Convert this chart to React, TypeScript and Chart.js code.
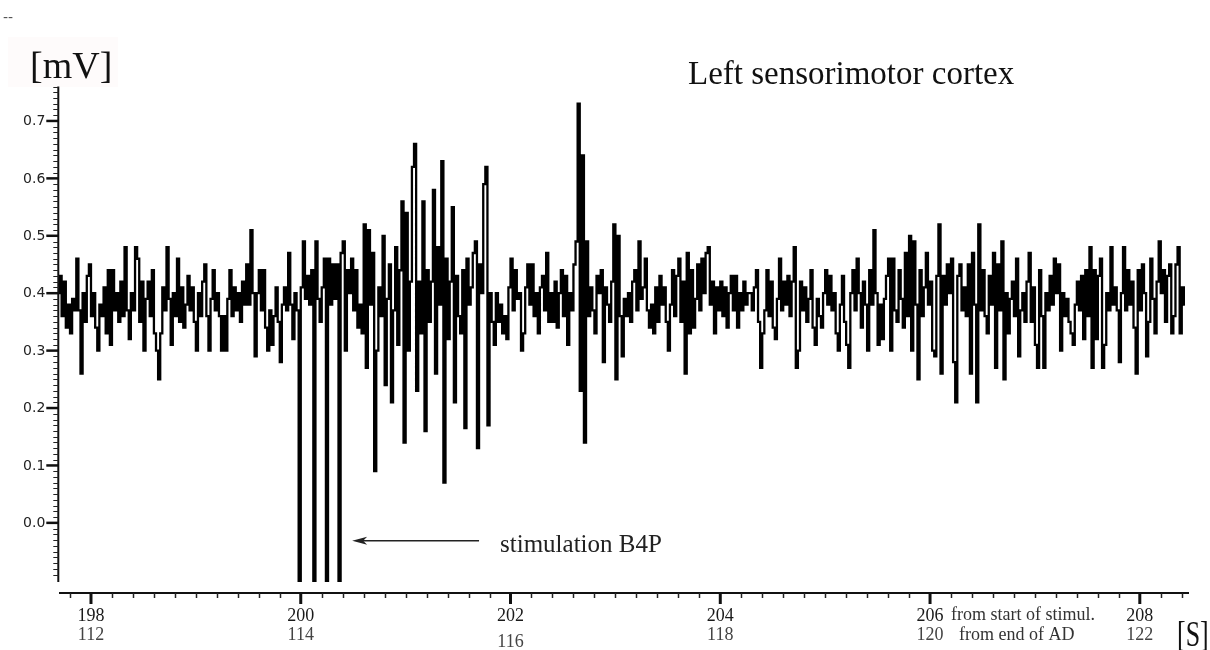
import React, { useEffect, useRef } from 'react';
import { Chart, registerables } from 'chart.js';

Chart.register(...registerables);

// ---- data -----------------------------------------------------------------
const signalStart = 197.69; // s (from start of stimulation)
const signalStep = 0.02; // s between samples

const seg1 = [
  0.40, 0.43, 0.36, 0.42, 0.34, 0.38, 0.33, 0.39, 0.37, 0.46,
  0.37, 0.26, 0.40, 0.35, 0.43, 0.45, 0.36, 0.40, 0.34, 0.30,
  0.38, 0.36, 0.41, 0.33, 0.44, 0.31, 0.44, 0.37, 0.40, 0.35,
  0.42, 0.36, 0.48, 0.37, 0.32, 0.40, 0.37, 0.48, 0.46, 0.35,
  0.42, 0.30, 0.39, 0.42, 0.36, 0.44, 0.33, 0.30, 0.25, 0.33,
  0.41, 0.37, 0.48, 0.39, 0.31, 0.40, 0.36, 0.46, 0.35, 0.41,
  0.34, 0.38, 0.43, 0.37, 0.41, 0.35, 0.30, 0.40, 0.36, 0.42,
  0.45, 0.36, 0.30, 0.39, 0.44, 0.37, 0.40, 0.36, 0.30, 0.36,
  0.30, 0.39, 0.44, 0.36, 0.41, 0.37, 0.40, 0.35, 0.42, 0.38,
  0.45, 0.38, 0.51, 0.40, 0.29, 0.40, 0.44, 0.37, 0.44, 0.34,
  0.30, 0.37, 0.31, 0.36, 0.41, 0.35, 0.28, 0.38, 0.41, 0.37,
];

const seg2 = [
  0.47, 0.38, 0.32, 0.40, 0.37, -0.35, 0.41, 0.49, 0.39, 0.43,
  0.38, 0.44, -0.35, 0.49, 0.39, 0.35, 0.41, 0.46, -0.35, 0.46,
  0.38, 0.45, 0.39, 0.45, -0.35, 0.47, 0.49, 0.30, 0.44, 0.40,
  0.46, 0.37, 0.44, 0.34, 0.38, 0.33, 0.52, 0.27, 0.51, 0.38,
  0.47, 0.09, 0.30, 0.41, 0.36, 0.50, 0.24, 0.39, 0.45, 0.21,
  0.37, 0.48, 0.31, 0.44, 0.56, 0.14, 0.54, 0.30, 0.42, 0.62,
  0.66, 0.23, 0.42, 0.33, 0.56, 0.16, 0.44, 0.35, 0.42, 0.58,
  0.26, 0.48, 0.38, 0.63, 0.07, 0.46, 0.32, 0.42, 0.55, 0.21,
  0.43, 0.36, 0.33, 0.44, 0.165, 0.46, 0.38, 0.41, 0.47, 0.49,
  0.13, 0.45, 0.40, 0.59, 0.62, 0.17, 0.40, 0.35, 0.31, 0.40,
  0.35, 0.38, 0.33, 0.36, 0.32, 0.41, 0.46, 0.37, 0.44, 0.39,
];

const seg3 = [
  0.40, 0.30, 0.33, 0.41, 0.45, 0.38, 0.45, 0.36, 0.40, 0.33,
  0.41, 0.43, 0.37, 0.47, 0.35, 0.40, 0.35, 0.42, 0.34, 0.40,
  0.44, 0.36, 0.43, 0.31, 0.40, 0.37, 0.45, 0.49, 0.73, 0.23,
  0.64, 0.14, 0.49, 0.36, 0.41, 0.37, 0.33, 0.43, 0.40, 0.44,
  0.28, 0.41, 0.38, 0.35, 0.42, 0.52, 0.25, 0.50, 0.36, 0.29,
  0.39, 0.36, 0.40, 0.35, 0.42, 0.44, 0.37, 0.49, 0.39, 0.41,
  0.46, 0.37, 0.34, 0.38, 0.33, 0.41, 0.35, 0.43, 0.38, 0.41,
  0.35, 0.30, 0.38, 0.44, 0.36, 0.43, 0.46, 0.35, 0.42, 0.26,
  0.47, 0.33, 0.44, 0.34, 0.39, 0.45, 0.37, 0.46, 0.40, 0.47,
  0.48, 0.38, 0.42, 0.33, 0.41, 0.37, 0.42, 0.36, 0.41, 0.34,
  0.40, 0.43, 0.37, 0.43, 0.34, 0.40, 0.37, 0.42, 0.38, 0.40,
];

const seg4 = [
  0.40, 0.37, 0.41, 0.44, 0.35, 0.27, 0.33, 0.37, 0.44, 0.36,
  0.42, 0.34, 0.32, 0.39, 0.46, 0.37, 0.42, 0.38, 0.43, 0.36,
  0.42, 0.48, 0.27, 0.30, 0.42, 0.37, 0.41, 0.35, 0.39, 0.44,
  0.34, 0.31, 0.39, 0.36, 0.34, 0.40, 0.44, 0.38, 0.43, 0.37,
  0.40, 0.33, 0.30, 0.38, 0.43, 0.35, 0.31, 0.27, 0.40, 0.44,
  0.37, 0.46, 0.40, 0.34, 0.42, 0.38, 0.30, 0.44, 0.38, 0.51,
  0.40, 0.31, 0.38, 0.32, 0.39, 0.43, 0.46, 0.30, 0.46, 0.37,
  0.35, 0.44, 0.39, 0.34, 0.47, 0.36, 0.50, 0.30, 0.49, 0.38,
  0.25, 0.44, 0.36, 0.41, 0.47, 0.38, 0.42, 0.30, 0.29, 0.43,
  0.52, 0.26, 0.43, 0.38, 0.45, 0.40, 0.46, 0.28, 0.21, 0.43,
  0.45, 0.37, 0.41, 0.36, 0.45, 0.26, 0.47, 0.38, 0.21, 0.52,
];

const seg5 = [
  0.37, 0.44, 0.36, 0.33, 0.43, 0.38, 0.47, 0.27, 0.45, 0.37,
  0.49, 0.25, 0.40, 0.33, 0.39, 0.42, 0.36, 0.46, 0.29, 0.37,
  0.40, 0.35, 0.42, 0.47, 0.35, 0.41, 0.31, 0.27, 0.44, 0.36,
  0.27, 0.40, 0.37, 0.43, 0.38, 0.46, 0.40, 0.45, 0.30, 0.40,
  0.36, 0.39, 0.35, 0.33, 0.31, 0.38, 0.42, 0.37, 0.43, 0.32,
  0.44, 0.36, 0.48, 0.27, 0.44, 0.32, 0.43, 0.46, 0.27, 0.31,
  0.40, 0.37, 0.48, 0.38, 0.41, 0.37, 0.28, 0.40, 0.48, 0.37,
  0.44, 0.38, 0.42, 0.34, 0.26, 0.44, 0.37, 0.45, 0.40, 0.29,
  0.35, 0.46, 0.39, 0.33, 0.42, 0.49, 0.40, 0.44, 0.35, 0.43,
  0.45, 0.33, 0.36, 0.45, 0.48, 0.33, 0.41, 0.38,
];

const yTickValues = [0.0, 0.1, 0.2, 0.3, 0.4, 0.5, 0.6, 0.7];
const yTickLabels = ['0.0', '0.1', '0.2', '0.3', '0.4', '0.5', '0.6', '0.7'];
const yMinorStep = 0.01;

const xMajorTicks = [198, 200, 202, 204, 206, 208];
const xLabelsFromStimStart = ['198', '200', '202', '204', '206', '208'];
const xLabelsFromAdEnd = ['112', '114', '116', '118', '120', '122'];
const xMinorStep = 0.2;

const X_MIN = 197.695;
const X_MAX = 208.45;
const Y_MIN = -0.103;
const Y_MAX = 0.76;

const SERIF = '"Liberation Serif", "Times New Roman", serif';
const SANS = '"DejaVu Sans", sans-serif';

// ---- drawing plugin for axes and annotations ------------------------------
const eegDecor = {
  id: 'eegDecor',
  beforeDraw(chart: any) {
    const ctx = chart.ctx;
    ctx.save();
    ctx.fillStyle = '#fefbfb';
    ctx.fillRect(8, 37, 110, 50);
    ctx.restore();
  },
  afterDraw(chart: any) {
    const ctx = chart.ctx as CanvasRenderingContext2D;
    const xs = chart.scales.x;
    const ys = chart.scales.y;
    const area = chart.chartArea;
    ctx.save();

    // --- Y axis ---
    const axX = area.left - 0.7;
    ctx.strokeStyle = '#111';
    ctx.lineWidth = 2;
    ctx.beginPath();
    ctx.moveTo(axX, area.top);
    ctx.lineTo(axX, area.bottom);
    ctx.stroke();

    const kMin = Math.ceil(Y_MIN / yMinorStep - 1e-6);
    const kMax = Math.floor(Y_MAX / yMinorStep + 1e-6);
    for (let k = kMin; k <= kMax; k++) {
      const v = k * yMinorStep;
      const y = Math.round(ys.getPixelForValue(v)) + 0.5;
      if (k % 10 === 0) continue;
      ctx.lineWidth = 1;
      ctx.strokeStyle = '#222';
      ctx.beginPath();
      ctx.moveTo(axX - 5, y);
      ctx.lineTo(axX + 0.5, y);
      ctx.stroke();
    }
    ctx.font = '14px ' + SANS;
    ctx.fillStyle = '#222';
    ctx.textAlign = 'right';
    ctx.textBaseline = 'middle';
    yTickValues.forEach((v, i) => {
      const y = ys.getPixelForValue(v);
      ctx.lineWidth = 2.5;
      ctx.strokeStyle = '#111';
      ctx.beginPath();
      ctx.moveTo(axX - 12, y);
      ctx.lineTo(axX, y);
      ctx.stroke();
      ctx.fillText(yTickLabels[i], axX - 13, y + 0.5);
    });

    // --- X axis (offset below the plot) ---
    const axY = 593;
    ctx.strokeStyle = '#111';
    ctx.lineWidth = 2;
    ctx.beginPath();
    ctx.moveTo(area.left, axY);
    ctx.lineTo(area.right + 2, axY);
    ctx.stroke();

    const mMin = Math.ceil(X_MIN / xMinorStep);
    const mMax = Math.floor(X_MAX / xMinorStep);
    for (let m = mMin; m <= mMax; m++) {
      const t = m * xMinorStep;
      if (m % 10 === 0) continue;
      const x = Math.round(xs.getPixelForValue(t)) + 0.5;
      ctx.lineWidth = 1.5;
      ctx.strokeStyle = '#222';
      ctx.beginPath();
      ctx.moveTo(x, axY);
      ctx.lineTo(x, axY + 5);
      ctx.stroke();
    }
    ctx.textAlign = 'center';
    ctx.textBaseline = 'alphabetic';
    xMajorTicks.forEach((t, i) => {
      const x = xs.getPixelForValue(t);
      ctx.lineWidth = 3;
      ctx.strokeStyle = '#111';
      ctx.beginPath();
      ctx.moveTo(x, axY);
      ctx.lineTo(x, axY + 11);
      ctx.stroke();
      ctx.font = '18px ' + SERIF;
      ctx.fillStyle = '#1a1a1a';
      ctx.fillText(xLabelsFromStimStart[i], x, 621);
      ctx.fillStyle = '#444';
      ctx.fillText(xLabelsFromAdEnd[i], x, t === 202 ? 647 : 640);
    });

    // axis captions
    ctx.textAlign = 'left';
    ctx.font = '18px ' + SERIF;
    ctx.fillStyle = '#333';
    ctx.fillText('from start of stimul.', 951, 620);
    ctx.fillText('from end of AD', 959, 640);

    ctx.save();
    ctx.translate(1177, 646);
    ctx.scale(0.72, 1);
    ctx.font = '36px ' + SERIF;
    ctx.fillStyle = '#111';
    ctx.fillText('[S]', 0, 0);
    ctx.restore();

    ctx.font = '38px ' + SERIF;
    ctx.fillStyle = '#111';
    ctx.fillText('[mV]', 30, 78);

    ctx.font = '33px ' + SERIF;
    ctx.fillText('Left sensorimotor cortex', 688, 84);

    ctx.font = '14px ' + SANS;
    ctx.fillStyle = '#555';
    ctx.fillText('--', 3, 22);

    // stimulation arrow
    const ay = ys.getPixelForValue(-0.031);
    const ax0 = xs.getPixelForValue(201.7);
    const ax1 = xs.getPixelForValue(200.49);
    ctx.strokeStyle = '#222';
    ctx.lineWidth = 1.5;
    ctx.beginPath();
    ctx.moveTo(ax0, ay);
    ctx.lineTo(ax1 + 10, ay);
    ctx.stroke();
    ctx.fillStyle = '#222';
    ctx.beginPath();
    ctx.moveTo(ax1, ay);
    ctx.lineTo(ax1 + 15, ay - 4);
    ctx.lineTo(ax1 + 11, ay);
    ctx.lineTo(ax1 + 15, ay + 4);
    ctx.closePath();
    ctx.fill();

    ctx.font = '25px ' + SERIF;
    ctx.fillStyle = '#222';
    ctx.fillText('stimulation B4P', xs.getPixelForValue(201.9), ys.getPixelForValue(-0.05));

    ctx.restore();
  },
};

export default function App() {
  const ref = useRef<HTMLCanvasElement | null>(null);

  useEffect(() => {
    const canvas = ref.current;
    if (!canvas) return;
    const values = [...seg1, ...seg2, ...seg3, ...seg4, ...seg5];
    const points = values.map((v, i) => ({ x: signalStart + i * signalStep, y: v }));

    const chart = new Chart(canvas, {
      type: 'line',
      data: {
        datasets: [
          {
            label: 'Left sensorimotor cortex',
            data: points,
            borderColor: '#000',
            borderWidth: 2.3,
            stepped: 'middle',
            pointRadius: 0,
            fill: false,
          },
        ],
      },
      options: {
        responsive: false,
        maintainAspectRatio: false,
        devicePixelRatio: 1,
        animation: false,
        events: [],
        layout: { padding: { left: 59, right: 23, top: 86.5, bottom: 68 } },
        plugins: {
          legend: { display: false },
          title: { display: false },
          tooltip: { enabled: false },
        },
        scales: {
          x: { type: 'linear', min: X_MIN, max: X_MAX, display: false },
          y: { type: 'linear', min: Y_MIN, max: Y_MAX, display: false },
        },
      },
      plugins: [eegDecor],
    });
    return () => chart.destroy();
  }, []);

  return (
    <div style={{ position: 'absolute', left: 0, top: 0, width: 1210, height: 650, background: '#fff' }}>
      <canvas ref={ref} width={1210} height={650} style={{ display: 'block', width: 1210, height: 650 }} />
    </div>
  );
}
